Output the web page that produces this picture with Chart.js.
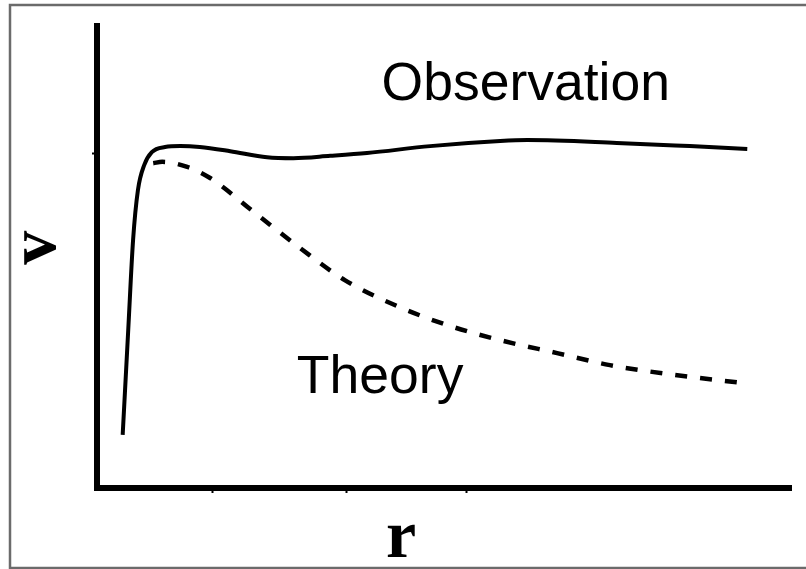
<!DOCTYPE html>
<html>
<head>
<meta charset="utf-8">
<script src="https://cdn.jsdelivr.net/npm/chart.js@4/dist/chart.umd.min.js"></script>
<style>
html,body{margin:0;padding:0;background:#fff;overflow:hidden;}
#wrap{position:relative;width:806px;height:569px;}
canvas{position:absolute;left:0;top:0;}
</style>
</head>
<body>
<div id="wrap"><canvas id="c" width="806" height="569"></canvas></div>
<script>
// Observation (solid) curve: radius r and velocity v
const obsR = [0.37, 0.45, 0.52, 0.59, 0.68, 0.79, 0.98, 1.20, 1.48, 1.92, 2.45, 2.83, 3.36, 3.89, 4.80, 5.81, 6.20, 7.49, 8.54, 9.37];
const obsV = [1.15, 3.42, 5.37, 6.45, 6.99, 7.27, 7.38, 7.40, 7.38, 7.29, 7.16, 7.14, 7.19, 7.25, 7.40, 7.51, 7.53, 7.47, 7.40, 7.34];
// Theory (dashed) curve
const theoR = [0.81, 0.94, 1.30, 1.63, 2.28, 2.93, 3.57, 4.29, 5.04, 5.81, 6.63, 7.39, 8.21, 9.38];
const theoV = [7.03, 7.06, 6.95, 6.71, 5.95, 5.19, 4.50, 3.96, 3.53, 3.20, 2.92, 2.66, 2.47, 2.26];
// small tick marks on the axes (no labels)
const xTickValues = [1.67, 3.60, 5.33];
const yTickValues = [7.25];
// text labels
const xTitle = 'r';
const yTitle = 'v';
const seriesLabels = ['Observation', 'Theory'];
// label anchor positions in data units
const obsLabelPos = [4.10, 8.4];
const theoLabelPos = [2.88, 2.06];

const toPts = (xs, ys) => xs.map((x, i) => ({x: x, y: ys[i]}));

const labelPlugin = {
  id: 'labels',
  beforeDraw(chart) {
    const ctx = chart.ctx;
    ctx.save();
    ctx.strokeStyle = '#6b6b6b';
    ctx.lineWidth = 2.5;
    ctx.strokeRect(10, 5, 900, 563);
    ctx.restore();
  },
  afterDraw(chart) {
    const ctx = chart.ctx;
    const xs = chart.scales.x, ys = chart.scales.y;
    ctx.save();
    ctx.fillStyle = '#000';
    ctx.font = '53.5px "Liberation Sans", Arial, sans-serif';
    ctx.textAlign = 'left';
    ctx.textBaseline = 'alphabetic';
    ctx.fillText(seriesLabels[0], xs.getPixelForValue(obsLabelPos[0]), ys.getPixelForValue(obsLabelPos[1]));
    ctx.fillText(seriesLabels[1], xs.getPixelForValue(theoLabelPos[0]), ys.getPixelForValue(theoLabelPos[1]));
    // axis titles
    ctx.font = 'bold 68px "Liberation Serif", "Times New Roman", serif';
    ctx.textAlign = 'center';
    ctx.fillText(xTitle, xs.getPixelForValue(4.38), 557);
    ctx.translate(55, ys.getPixelForValue(5.2));
    ctx.rotate(-Math.PI / 2);
    ctx.fillText(yTitle, 0, 0);
    ctx.restore();
  }
};

new Chart(document.getElementById('c'), {
  type: 'line',
  data: {
    datasets: [
      {
        label: seriesLabels[0],
        data: toPts(obsR, obsV),
        borderColor: '#000',
        borderWidth: 4,
        pointRadius: 0,
        fill: false,
        cubicInterpolationMode: 'monotone'
      },
      {
        label: seriesLabels[1],
        data: toPts(theoR, theoV),
        borderColor: '#000',
        borderWidth: 4.5,
        borderDash: [12, 13],
        pointRadius: 0,
        fill: false,
        cubicInterpolationMode: 'monotone'
      }
    ]
  },
  options: {
    responsive: false,
    animation: false,
    devicePixelRatio: 1,
    layout: {padding: {top: 26, right: 15, left: 0, bottom: 0}},
    plugins: {legend: {display: false}, tooltip: {enabled: false}},
    scales: {
      x: {
        type: 'linear', min: 0, max: 10,
        afterBuildTicks: s => { s.ticks = xTickValues.map(v => ({value: v})); },
        afterFit: s => { s.height = 81; },
        ticks: {display: false},
        grid: {drawOnChartArea: false, drawTicks: true, tickLength: 5, tickWidth: 2, tickColor: '#000', color: '#000'},
        border: {display: true, color: '#000', width: 6}
      },
      y: {
        type: 'linear', min: 0, max: 10,
        afterBuildTicks: s => { s.ticks = yTickValues.map(v => ({value: v})); },
        afterFit: s => { s.width = 97; },
        ticks: {display: false},
        grid: {drawOnChartArea: false, drawTicks: true, tickLength: 5, tickWidth: 2, tickColor: '#000', color: '#000'},
        border: {display: true, color: '#000', width: 6}
      }
    }
  },
  plugins: [labelPlugin]
});
</script>
</body>
</html>
